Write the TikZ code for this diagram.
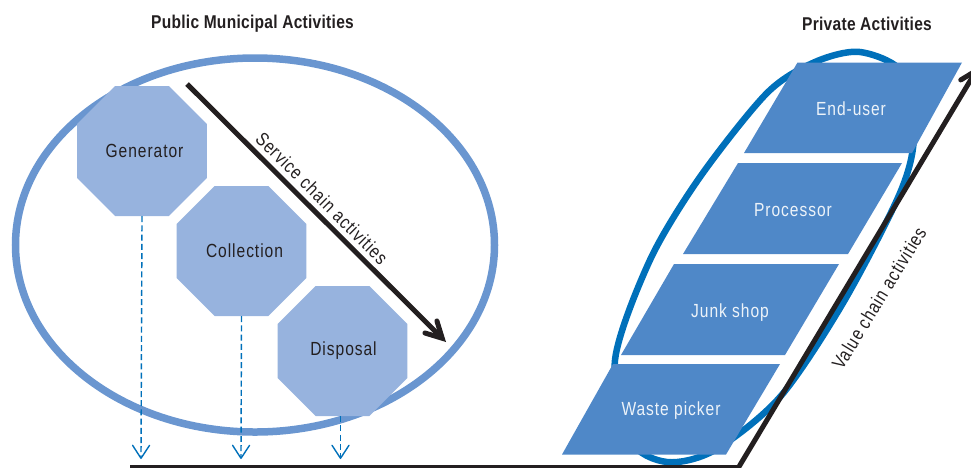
\documentclass[tikz,border=0pt]{standalone}
\usepackage{fontspec}
\setmainfont[FakeStretch=0.82,LetterSpace=5]{Liberation Sans}
\newfontfamily\titlefont[FakeStretch=0.84,LetterSpace=1.5]{Liberation Sans}
\usetikzlibrary{shapes.geometric,arrows.meta}
\definecolor{ellL}{HTML}{6A96D0}
\definecolor{octF}{HTML}{97B3DE}
\definecolor{ellR}{HTML}{0070BA}
\definecolor{parF}{HTML}{4F88C8}
\definecolor{inkD}{HTML}{231F20}
\tikzset{
  x=1pt,y=-1pt,
  octa/.style={regular polygon,regular polygon sides=8,minimum size=140.7pt,inner sep=0pt,fill=octF,text=inkD,font=\fontsize{19}{20}\selectfont},
  parafill/.style={fill=parF},
  paratext/.style={text=white!90!parF,font=\fontsize{19}{20}\selectfont},
  dashline/.style={draw=ellR,line width=1.4pt,dash pattern=on 6pt off 3.2pt,-{Straight Barb[length=13pt,width=17pt,line width=1.4pt,round]}},
  title/.style={font=\titlefont\bfseries\fontsize{18.5}{20}\selectfont,text=inkD},
  axislab/.style={font=\fontsize{19}{20}\selectfont,text=inkD},
  chainarrow/.style={draw=inkD,line width=5pt,-{Straight Barb[length=16pt,width=17pt,line width=5pt,line cap=round,line join=miter]}}
}
\begin{document}
\begin{tikzpicture}
\useasboundingbox (0,0) rectangle (971,467);
\node[title] (pub) at (252.5,23.5) {Public Municipal Activities};
\node[title] (pri) at (867,23.5) {Private Activities};
% ellipses
\node[draw=ellL,line width=7.5pt,ellipse,minimum width=479pt,minimum height=374pt,inner sep=0pt] (leftE) at (255,245) {};
\draw[ellR,line width=6.5pt] plot[smooth cycle,tension=0.5] coordinates {(860,52) (903,73) (914,135) (900,193) (843,303) (780,397) (715,450) (667,462) (630,440) (615,360) (650,260) (700,177) (767,93) (815,62)};
% octagons
\node[octa] (gen) at (142,151) {\raisebox{-1pt}{\hspace*{5pt}Generator}};
\node[octa] (col) at (241.5,251) {\raisebox{-1pt}{\hspace*{6pt}Collection}};
\node[octa] (dis) at (342.5,351) {\raisebox{-1pt}{\hspace*{2pt}Disposal}};
% parallelograms
\fill[parafill] (797.5,62.5) -- (962,62.5) -- (912,153) -- (744,153) -- cycle;
\node[paratext] (eu) at (851,109) {End-user};
\fill[parafill] (738,163) -- (902,163) -- (848,254) -- (683,254) -- cycle;
\node[paratext] (pr) at (793,210) {Processor};
\fill[parafill] (674,264) -- (839,264) -- (785,355) -- (621,355) -- cycle;
\node[paratext] (js) at (730,313) {Junk shop};
\fill[parafill] (613,364) -- (780,364) -- (726,454.5) -- (562,454.5) -- cycle;
\node[paratext] (wp) at (671,411) {Waste picker};
% dashed arrows
\coordinate (d1) at (141,459);
\coordinate (d2) at (241,459);
\coordinate (d3) at (340.5,459);
\draw[dashline] (gen.south) -- (d1);
\draw[dashline] (col.south) -- (d2);
\draw[dashline] (dis.south -| d3) -- (d3);
% chain arrows
\coordinate (s1) at (187,84);
\coordinate (s2) at (446,342);
\draw[chainarrow] (s1) -- (s2);
\coordinate (a0) at (130,467.5);
\coordinate (a1) at (738.5,467.5);
\coordinate (a2) at (979,66);
\draw[chainarrow,line join=miter] (a0) -- (a1) -- (a2);
\node[axislab,rotate=-45] (sl) at (322,198) {Service chain activities};
\node[axislab,rotate=58.5] (vl) at (879,298) {Value chain activities};
\end{tikzpicture}
\end{document}
